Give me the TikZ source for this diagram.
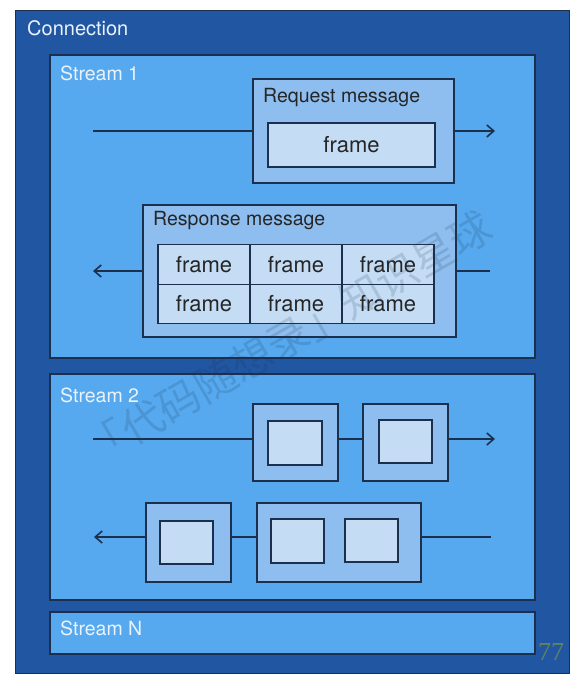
\documentclass[tikz,border=0pt]{standalone}
\usepackage{fontspec}
\setmainfont{TeX Gyre Heros}
\newfontfamily\cjkfont{Noto Sans CJK SC}
\newfontfamily\numfont{Liberation Serif}
\usetikzlibrary{arrows.meta}
\definecolor{conn}{RGB}{33,86,162}
\definecolor{strm}{RGB}{86,169,238}
\definecolor{msg}{RGB}{142,190,240}
\definecolor{frm}{RGB}{196,221,245}
\definecolor{edge}{RGB}{28,48,78}
\definecolor{lbl}{RGB}{234,242,251}
\tikzset{
  x=1pt, y=-1pt,
  box/.style={draw=edge, line width=1.2pt, inner sep=0pt, outer sep=0pt},
  connbox/.style={box, fill=conn, line width=1pt},
  streambox/.style={box, fill=strm},
  msgbox/.style={box, fill=msg},
  framebox/.style={box, fill=frm, line width=1.4pt},
  lab/.style={text=lbl, font=\fontsize{19.5}{19.5}\selectfont, anchor=west, inner sep=0pt},
  mlab/.style={text=black!85, font=\fontsize{19.5}{19.5}\selectfont, anchor=west, inner sep=0pt},
  ftext/.style={text=black!85, font=\fontsize{22}{22}\selectfont},
  flow/.style={draw=edge, line width=1.6pt},
  flowarr/.style={flow, -{Straight Barb[length=7pt,width=12pt,line width=1.6pt]}},
  wmark/.style={rotate=30, opacity=0.16, text=edge, font=\cjkfont\fontsize{42}{42}\selectfont, inner sep=0pt},
}
\begin{document}
\begin{tikzpicture}
\useasboundingbox (0,0) rectangle (588,679);
\fill[white] (0,0) rectangle (588,679);
% containers
\node[connbox, minimum width=554, minimum height=662] (conn) at (292,342) {};
\node[lab, font=\fontsize{20}{20}\selectfont] (connlab) at (27,28) {Connection};
\node[streambox, minimum width=485, minimum height=303] (s1) at (292.5,206.5) {};
\node[lab] (s1lab) at (60,73) {Stream 1};
\node[streambox, minimum width=485, minimum height=226] (s2) at (292.5,487) {};
\node[lab] (s2lab) at (60,395) {Stream 2};
\node[streambox, minimum width=485, minimum height=42] (sn) at (292.5,633) {};
\node[lab] (snlab) at (60,628) {Stream N};

% Stream 1: request
\coordinate (rqin) at (93,131);
\coordinate (rqout) at (495,131);
\draw[flow] (rqin) -- (253,131);
\draw[flowarr] (454,131) -- (rqout);
\node[msgbox, minimum width=201, minimum height=104] (req) at (353.5,131) {};
\node[mlab] (reqlab) at (263,98) {Request message};
\node[framebox, minimum width=167, minimum height=44] (reqf) at (351.5,145) {};
\node[ftext] (reqft) at (reqf) {frame};

% Stream 1: response
\coordinate (rsin) at (490,271);
\coordinate (rsout) at (93,271);
\draw[flow] (rsin) -- (456,271);
\draw[flowarr] (143,271) -- (rsout);
\node[msgbox, minimum width=313, minimum height=132] (resp) at (299.5,271) {};
\node[mlab] (resplab) at (153,221) {Response message};
\foreach \r/\y in {1/264.5,2/304} {
  \foreach \c/\x in {1/204,2/296,3/388} {
    \node[framebox, minimum width=92, minimum height=39.5] (c\r\c) at (\x,\y) {};
    \node[ftext] at (c\r\c) {frame};
  }
}

% Stream 2 top
\coordinate (tin) at (93,439);
\coordinate (tout) at (495,439);
\node[msgbox, minimum width=85, minimum height=77] (A) at (295.5,442.5) {};
\node[framebox, minimum width=54, minimum height=44] (Ai) at (295,443) {};
\node[msgbox, minimum width=85, minimum height=77] (B) at (405.5,442.5) {};
\node[framebox, minimum width=53, minimum height=43] (Bi) at (405.5,441.5) {};
\draw[flow] (tin) -- (tin -| A.west);
\draw[flow] (A.east |- tin) -- (B.west |- tin);
\draw[flowarr] (B.east |- tin) -- (tout);

% Stream 2 bottom
\coordinate (bin) at (491,537);
\coordinate (bout) at (94,537);
\node[msgbox, minimum width=85, minimum height=79] (C) at (188.5,542.5) {};
\node[framebox, minimum width=53, minimum height=43] (Ci) at (186.5,542.5) {};
\node[msgbox, minimum width=164, minimum height=79] (D) at (339,542.5) {};
\node[framebox, minimum width=53, minimum height=44] (D1) at (297.5,541) {};
\node[framebox, minimum width=53, minimum height=43] (D2) at (371.5,540.5) {};
\draw[flow] (bin) -- (bin -| D.east);
\draw[flow] (D.west |- bin) -- (C.east |- bin);
\draw[flowarr] (C.west |- bin) -- (bout);

% watermark (drawn over the picture, as in the reference)
\node[wmark] (wm) at (288,338) {「代码随想录」知识星球};

% page number
\node[text=black!45!green!25!gray, font=\numfont\fontsize{26}{26}\selectfont, inner sep=0pt] (pg) at (551,652) {77};
\end{tikzpicture}
\end{document}
